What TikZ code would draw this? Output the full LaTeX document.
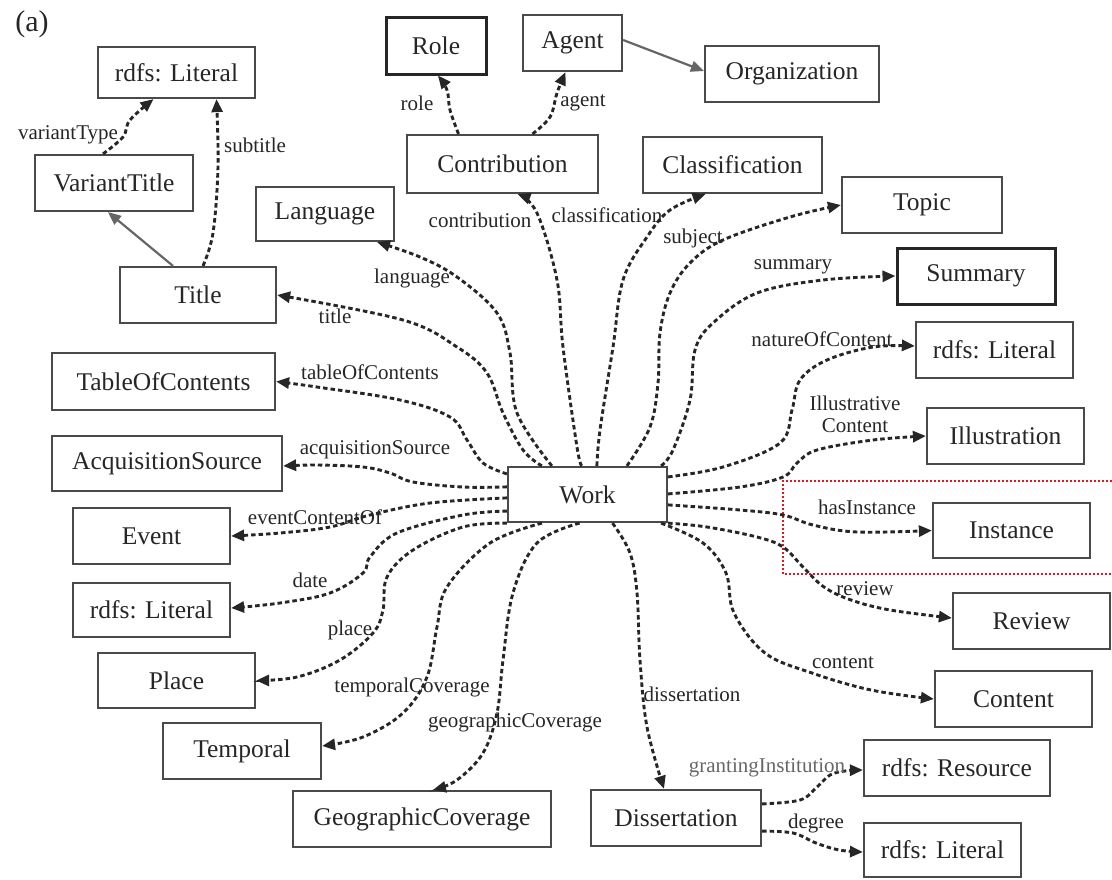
\documentclass[tikz,border=0pt]{standalone}
\usepackage{fontspec}
\setmainfont{Liberation Serif}
\usetikzlibrary{arrows.meta}
\definecolor{ink}{HTML}{262626}
\definecolor{boxc}{HTML}{4A4A4A}
\definecolor{solc}{HTML}{666666}
\definecolor{redbox}{HTML}{E8141B}
\begin{document}
\begin{tikzpicture}[x=1pt,y=-1pt,
  box/.style={draw=boxc, line width=2.2pt, text=ink, font=\fontsize{25.5}{30}\selectfont, inner sep=0pt},
  boxb/.style={box, line width=3pt, draw=ink},
  lbl/.style={text=ink, font=\fontsize{21}{22}\selectfont, inner sep=0pt},
  rel/.style={draw=ink, line width=2.9pt, dash pattern=on 4.5pt off 3pt, -{Triangle[length=13pt,width=11pt]}},
  sol/.style={draw=solc, line width=2.2pt, -{Triangle[length=13pt,width=11pt]}},
]
\useasboundingbox (0,0) rectangle (1112,879);

\node[text=ink, font=\fontsize{30}{32}\selectfont, inner sep=0pt] (tag) at (32,24) {(a)};

% boxes
\node[box, minimum width=157pt, minimum height=51pt] (lit1) at (176.5,72.5) {rdfs: Literal};
\node[box, minimum width=158pt, minimum height=56pt] (variant) at (114,183) {VariantTitle};
\node[box, minimum width=138pt, minimum height=54pt] (language) at (325,214) {Language};
\node[box, minimum width=156pt, minimum height=56pt] (title) at (198,295) {Title};
\node[boxb, minimum width=100pt, minimum height=57pt] (role) at (436,45.5) {Role};
\node[box, minimum width=99pt, minimum height=56pt] (agent) at (572.5,43) {Agent};
\node[box, minimum width=174pt, minimum height=56pt] (org) at (792,74) {Organization};
\node[box, minimum width=191pt, minimum height=58pt] (contrib) at (502.5,164) {Contribution};
\node[box, minimum width=179pt, minimum height=56pt] (classif) at (732.5,165) {Classification};
\node[box, minimum width=160pt, minimum height=56pt] (topic) at (922,205) {Topic};
\node[boxb, minimum width=158pt, minimum height=56pt] (summary) at (976,276) {Summary};
\node[box, minimum width=157pt, minimum height=56pt] (lit2) at (994.5,350) {rdfs: Literal};
\node[box, minimum width=157pt, minimum height=56pt] (illus) at (1005.5,436) {Illustration};
\node[box, minimum width=223pt, minimum height=57pt] (toc) at (163.5,381.5) {TableOfContents};
\node[box, minimum width=230pt, minimum height=55pt] (acq) at (167,463.5) {AcquisitionSource};
\node[box, minimum width=157pt, minimum height=56pt] (event) at (151.5,536) {Event};
\node[box, minimum width=157pt, minimum height=54pt] (lit3) at (151.5,610) {rdfs: Literal};
\node[box, minimum width=159pt, minimum height=55pt] (work) at (587.5,494.5) {Work};
\node[box, minimum width=157pt, minimum height=55pt] (instance) at (1011.5,530.5) {Instance};
\node[box, minimum width=157pt, minimum height=56pt] (review) at (1031.5,621) {Review};
\node[box, minimum width=157pt, minimum height=56pt] (content) at (1013.5,699) {Content};
\node[box, minimum width=157pt, minimum height=55pt] (place) at (176.5,680.5) {Place};
\node[box, minimum width=158pt, minimum height=56pt] (temporal) at (242,751) {Temporal};
\node[box, minimum width=258pt, minimum height=56pt] (geo) at (422,819) {GeographicCoverage};
\node[box, minimum width=170pt, minimum height=56pt] (diss) at (676,818) {Dissertation};
\node[box, minimum width=186pt, minimum height=56pt] (resource) at (957,768) {rdfs: Resource};
\node[box, minimum width=157pt, minimum height=54pt] (lit4) at (942.5,850) {rdfs: Literal};

% red highlight
\draw[draw=redbox, line width=2pt, dash pattern=on 2pt off 2pt] (1112,481) -- (783,481) -- (783,574) -- (1112,574);

% solid connectors
\draw[sol] ([xshift=-25pt]title.north) -- ([xshift=-6pt]variant.south);
\draw[sol] ([yshift=3pt]agent.east) -- ([yshift=3pt]org.west);

% dashed connectors from Work
\draw[rel] plot[smooth, tension=0.6] coordinates {([xshift=35pt]work.north west) (523,450) (503,413) (487,373) (457,347) (403,320) (title.east)};
\draw[rel] plot[smooth, tension=0.6] coordinates {([xshift=45pt]work.north west) (517,413) (510,353) (497,313) (457,277) (420,257) ([xshift=52pt]language.south)};
\draw[rel] plot[smooth, tension=0.6] coordinates {([xshift=75pt]work.north west) (577,447) (563,347) (557,280) (537,213) ([xshift=15pt]contrib.south)};
\draw[rel] plot[smooth, tension=0.6] coordinates {([xshift=90pt]work.north west) (600,430) (613,347) (623,280) (647,237) (670,210) ([xshift=-27pt]classif.south)};
\draw[rel] plot[smooth, tension=0.6] coordinates {([xshift=120pt]work.north west) (650,427) (658,383) (660,333) (670,293) (690,263) (723,240) (790,217) (topic.west)};
\draw[rel] plot[smooth, tension=0.6] coordinates {([xshift=-7pt]work.north east) (673,450) (690,400) (695,350) (713,323) (757,293) (823,280) (summary.west)};
\draw[rel] plot[smooth, tension=0.6] coordinates {([yshift=-11pt]work.north east) (723,467) (780,443) (792,410) (800,380) (827,360) (873,347) ([yshift=4pt]lit2.west)};
\draw[rel] plot[smooth, tension=0.6] coordinates {([yshift=-28pt]work.north east) (740,487) (783,477) (797,463) (817,450) (873,440) (illus.west)};
\draw[rel] plot[smooth, tension=0.6] coordinates {([yshift=-39pt]work.north east) (740,510) (783,515) (813,525) (857,532) (instance.west)};
\draw[rel] plot[smooth, tension=0.6] coordinates {(work.south east) (707,527) (757,537) (783,547) (803,567) (824,587) (851,600) (890,610) ([yshift=3pt]review.west)};
\draw[rel] plot[smooth, tension=0.6] coordinates {([xshift=-7pt]work.south east) (703,543) (726,573) (734,613) (765,653) (812,673) (871,690) (content.west)};
\draw[rel] plot[smooth, tension=0.6] coordinates {([xshift=25pt]work.south) (630,553) (637,593) (640,660) (647,727) ([xshift=-12pt]diss.north)};
\draw[rel] plot[smooth, tension=0.6] coordinates {([xshift=-8pt]work.south) (537,543) (513,593) (503,660) (497,713) (483,753) (457,780) ([xshift=11pt]geo.north)};
\draw[rel] plot[smooth, tension=0.6] coordinates {([xshift=35pt]work.south west) (490,543) (447,587) (437,627) (427,677) (403,713) (363,737) ([yshift=5pt]temporal.east)};
\draw[rel] plot[smooth, tension=0.6] coordinates {(work.south west) (463,527) (413,550) (387,577) (383,610) (373,633) (340,660) (297,677) (place.east)};
\draw[rel] plot[smooth, tension=0.6] coordinates {([yshift=12pt]work.south west) (463,515) (397,533) (370,557) (363,573) (330,593) (280,603) ([yshift=2pt]lit3.east)};
\draw[rel] plot[smooth, tension=0.6] coordinates {([yshift=-32pt]work.north west) (430,503) (370,515) (330,527) (280,533) (event.east)};
\draw[rel] plot[smooth, tension=0.6] coordinates {([yshift=-21pt]work.north west) (463,487) (413,482) (390,473) (363,467) (317,465) ([yshift=-2.5pt]acq.east)};
\draw[rel] plot[smooth, tension=0.6] coordinates {([yshift=-8pt]work.north west) (483,463) (467,440) (450,417) (400,400) (317,387) (toc.east)};

% other dashed connectors
\draw[rel] plot[smooth, tension=0.6] coordinates {([xshift=5pt]title.north) (213,233) (218,167) ([xshift=40pt]lit1.south)};
\draw[rel] plot[smooth, tension=0.6] coordinates {([xshift=-11pt]variant.north) (123,137) (130,120) ([xshift=-23pt]lit1.south)};
\draw[rel] plot[smooth, tension=0.6] coordinates {([xshift=-44pt]contrib.north) (450,110) (447,90) ([xshift=2pt]role.south)};
\draw[rel] plot[smooth, tension=0.6] coordinates {([xshift=30pt]contrib.north) (550,117) (557,93) ([xshift=-7pt]agent.south)};
\draw[rel] plot[smooth, tension=0.6] coordinates {([yshift=-15pt]diss.north east) (800,800) (817,787) (830,775) (845,771) ([yshift=-2pt]resource.west)};
\draw[rel] plot[smooth, tension=0.6] coordinates {([yshift=16pt]diss.south east) (793,833) (816,843) (839,850) ([yshift=-2pt]lit4.west)};

% labels
\node[lbl] (l-title) at (335,316) {title};
\node[lbl] (l-language) at (412,278) {language};
\node[lbl] (l-contrib) at (480,220) {contribution};
\node[lbl] (l-classif) at (607,215) {classification};
\node[lbl] (l-subject) at (693,238) {subject};
\node[lbl] (l-summary) at (793,267) {summary};
\node[lbl] (l-nature) at (822,339) {natureOfContent};
\node[lbl, align=center] (l-illus) at (855,414) {Illustrative\\Content};
\node[lbl] (l-hasinst) at (867,507) {hasInstance};
\node[lbl] (l-review) at (865,589) {review};
\node[lbl] (l-content) at (843,663) {content};
\node[lbl] (l-diss) at (692,694) {dissertation};
\node[lbl] (l-geo) at (515,722) {geographicCoverage};
\node[lbl] (l-temporal) at (412,687) {temporalCoverage};
\node[lbl] (l-place) at (350,630) {place};
\node[lbl] (l-date) at (310,580) {date};
\node[lbl] (l-event) at (315,517) {eventContentOf};
\node[lbl] (l-acq) at (375,450) {acquisitionSource};
\node[lbl] (l-toc) at (370,372) {tableOfContents};
\node[lbl] (l-subtitle) at (255,145) {subtitle};
\node[lbl] (l-variant) at (68,135) {variantType};
\node[lbl] (l-role) at (417,103) {role};
\node[lbl] (l-agent) at (583,103) {agent};
\node[lbl, text=solc] (l-grant) at (767,768) {grantingInstitution};
\node[lbl] (l-degree) at (816,823) {degree};
\end{tikzpicture}
\end{document}
